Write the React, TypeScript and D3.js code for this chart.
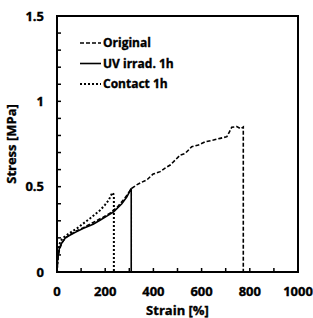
import React, { useEffect, useRef } from 'react';
import * as d3 from 'd3';

// Original (dashed)
const originalStrain = [0, 2, 5, 10, 20, 35, 55, 80, 110, 150, 190, 220, 250, 280, 310, 330, 350, 373, 399, 428, 450, 470, 490, 511, 532, 559, 587, 615, 649, 677, 705, 715, 725, 746, 762, 773, 773];
const originalStress = [0, 0.05, 0.09, 0.13, 0.17, 0.2, 0.22, 0.24, 0.26, 0.29, 0.32, 0.345, 0.38, 0.43, 0.49, 0.51, 0.525, 0.54, 0.574, 0.588, 0.61, 0.627, 0.655, 0.685, 0.695, 0.734, 0.744, 0.763, 0.773, 0.783, 0.793, 0.82, 0.848, 0.852, 0.84, 0.85, 0];

// UV irrad. 1h (solid)
const uvStrain = [0, 2, 5, 10, 20, 35, 55, 80, 110, 150, 180, 210, 235, 269, 290, 308, 308];
const uvStress = [0, 0.06, 0.1, 0.14, 0.17, 0.2, 0.217, 0.235, 0.256, 0.28, 0.305, 0.33, 0.353, 0.4, 0.44, 0.49, 0];

// Contact 1h (dotted)
const contactStrain = [0, 2, 5, 10, 14, 25, 41, 60, 83, 110, 138, 160, 180, 200, 214, 228, 232, 236, 236];
const contactStress = [0, 0.07, 0.12, 0.16, 0.18, 0.2, 0.217, 0.235, 0.256, 0.285, 0.315, 0.34, 0.363, 0.395, 0.42, 0.46, 0.465, 0.45, 0];

const xTicks = [0, 200, 400, 600, 800, 1000];
const yTicks = [0, 0.5, 1, 1.5];
const seriesNames = ['Original', 'UV irrad. 1h', 'Contact 1h'];
const seriesDash = ['4,2', null, '2,2'];

const App: React.FC = () => {
  const svgRef = useRef<SVGSVGElement>(null);

  useEffect(() => {
    if (!svgRef.current) return;
    const svg = d3.select(svgRef.current);
    svg.selectAll('*').remove();

    const margin = { top: 16, right: 15, bottom: 46, left: 57 };
    const width = 313 - margin.left - margin.right;
    const height = 318 - margin.top - margin.bottom;
    const font = '"Open Sans", "Noto Sans", sans-serif';

    const x = d3.scaleLinear().domain([0, 1000]).range([0, width]);
    const y = d3.scaleLinear().domain([0, 1.5]).range([height, 0]);

    const g = svg.append('g').attr('transform', `translate(${margin.left},${margin.top})`);

    // helper for the heavy bold labels
    const label = (sel: d3.Selection<any, any, any, any>, size: number) =>
      sel
        .attr('font-family', font)
        .attr('font-weight', 'bold')
        .attr('font-size', size)
        .attr('stroke', '#000')
        .attr('stroke-width', 0.35)
        .attr('fill', '#000');

    // minor inward ticks
    g.append('g')
      .selectAll('line')
      .data(d3.range(1, 10).map(d => d * 100))
      .enter()
      .append('line')
      .attr('x1', d => x(d))
      .attr('x2', d => x(d))
      .attr('y1', height)
      .attr('y2', height - 4)
      .attr('stroke', '#000')
      .attr('stroke-width', 1.5);

    g.append('g')
      .selectAll('line')
      .data(d3.range(1, 15).map(d => d / 10))
      .enter()
      .append('line')
      .attr('x1', 0)
      .attr('x2', 4)
      .attr('y1', d => y(d))
      .attr('y2', d => y(d))
      .attr('stroke', '#000')
      .attr('stroke-width', 1.5);

    // series
    const series = [
      originalStrain.map((s, i) => [s, originalStress[i]] as [number, number]),
      uvStrain.map((s, i) => [s, uvStress[i]] as [number, number]),
      contactStrain.map((s, i) => [s, contactStress[i]] as [number, number]),
    ];
    const line = d3.line<[number, number]>().x(d => x(d[0])).y(d => y(d[1]));

    series.forEach((pts, i) => {
      g.append('path')
        .datum(pts)
        .attr('d', line)
        .attr('fill', 'none')
        .attr('stroke', '#000')
        .attr('stroke-width', i === 2 ? 2 : 1.6)
        .attr('stroke-dasharray', seriesDash[i]);
    });

    // frame
    g.append('rect')
      .attr('x', 0)
      .attr('y', 0)
      .attr('width', width)
      .attr('height', height)
      .attr('fill', 'none')
      .attr('stroke', '#000')
      .attr('stroke-width', 2);

    // tick labels
    g.append('g')
      .selectAll('text')
      .data(xTicks)
      .enter()
      .append('text')
      .attr('x', d => x(d))
      .attr('y', height + 24)
      .attr('text-anchor', 'middle')
      .call(label, 13)
      .text(d => d);

    g.append('g')
      .selectAll('text')
      .data(yTicks)
      .enter()
      .append('text')
      .attr('x', -13)
      .attr('y', d => y(d))
      .attr('dy', '0.35em')
      .attr('text-anchor', 'end')
      .call(label, 13)
      .text(d => d);

    // axis titles
    g.append('text')
      .attr('x', width / 2)
      .attr('y', height + 43)
      .attr('text-anchor', 'middle')
      .call(label, 13)
      .text('Strain [%]');

    g.append('text')
      .attr('transform', `translate(${-41},${height / 2}) rotate(-90)`)
      .attr('text-anchor', 'middle')
      .call(label, 13)
      .text('Stress [MPa]');

    // legend
    const legend = g.append('g').attr('transform', 'translate(23,27)');
    seriesNames.forEach((name, i) => {
      const row = legend.append('g').attr('transform', `translate(0,${i * 20.5})`);
      row.append('line')
        .attr('x1', 0)
        .attr('x2', 21)
        .attr('y1', 0)
        .attr('y2', 0)
        .attr('stroke', '#000')
        .attr('stroke-width', i === 2 ? 2 : 1.6)
        .attr('stroke-dasharray', seriesDash[i]);
      row.append('text')
        .attr('x', 23)
        .attr('y', 0)
        .attr('dy', '0.35em')
        .call(label, 12)
        .text(name);
    });
  }, []);

  return (
    <div style={{ position: 'absolute', left: 0, top: 0 }}>
      <svg ref={svgRef} width={313} height={318} style={{ display: 'block', background: '#fff' }} />
    </div>
  );
};

export default App;
